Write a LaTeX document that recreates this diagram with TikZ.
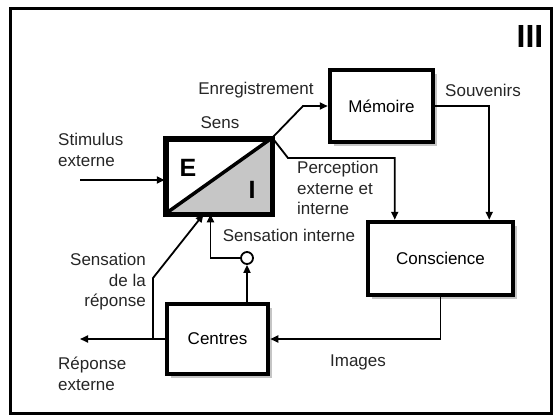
\documentclass[tikz,border=0pt]{standalone}
\usepackage{fontspec}
\setmainfont{Liberation Sans}
\usetikzlibrary{arrows.meta,shadows}
\begin{document}
\begin{tikzpicture}[x=1pt,y=-1pt,
  lbl/.style={font=\fontsize{17}{20.5}\selectfont, inner sep=0pt, text=black!85},
  boxn/.style={draw, line width=4.5pt, fill=white, inner sep=0pt,
     drop shadow={shadow xshift=3.5pt, shadow yshift=-3.5pt, opacity=0.45},
     font=\fontsize{17}{20}\selectfont},
  conn/.style={line width=1.8pt, line join=miter},
  arr/.style={conn, -{Triangle[length=8pt,width=7pt]}}
]
\useasboundingbox (0,0) rectangle (559,416);
\fill[white] (0,0) rectangle (559,416);
\draw[line width=3pt] (10,8) rectangle (551,413);
\node[font=\bfseries\fontsize{32}{32}\selectfont, inner sep=0pt] (roman) at (530,36) {III};

% boxes
\node[boxn, minimum width=103pt, minimum height=72pt] (sens) at (218.5,176) {};
\node[boxn, minimum width=103pt, minimum height=72pt] (mem) at (381.5,106) {Mémoire};
\node[boxn, minimum width=145pt, minimum height=73pt] (cons) at (440.5,258.5) {Conscience};
\node[boxn, minimum width=101pt, minimum height=70pt] (cent) at (217.5,339) {Centres};

% sens box interior
\fill[gray!45] (sens.south west) -- (sens.south east) -- (sens.north east) -- cycle;
\draw[line width=4.5pt] (sens.south west) rectangle (sens.north east);
\draw[line width=3.5pt] (sens.south west) -- (sens.north east);
\node[font=\bfseries\fontsize{25}{25}\selectfont, inner sep=0pt] (E) at (188,168) {E};
\node[font=\bfseries\fontsize{25}{25}\selectfont, inner sep=0pt] (I) at (252,190) {I};

% circle
\node[circle, draw, line width=1.8pt, fill=white, minimum size=12pt, inner sep=0pt] (circ) at (247,258) {};

% coordinates
\coordinate (stim) at (80,180);
\coordinate (rep) at (80,339);
\coordinate (srj) at (153,339);

% connectors
\draw[arr] (stim) -- (stim -| sens.west);
\draw[arr] (sens.north east) -- (303,106) -- (mem.west);
\draw[arr] (sens.north east) -- (288,158) -| ([xshift=29pt]cons.north west);
\draw[arr] (mem.east) -| ([xshift=-26pt]cons.north east);
\draw[arr] (cons.south) |- (cent.east);
\draw[arr] (cent.west) -- (rep);
\draw[arr] (srj) -- (153,278) -- ([xshift=-15pt]sens.south);
\draw[arr] (circ.west) -| ([xshift=-8pt]sens.south);
\draw[arr] (circ.south |- cent.north) -- (circ.south);

% labels
\node[lbl] (lsens) at (220,123) {Sens};
\node[lbl] (lenr) at (256,90) {Enregistrement};
\node[lbl] (lsouv) at (483,90) {Souvenirs};
\node[lbl, align=left, anchor=west] (lperc) at (297,188) {Perception\\externe et\\interne};
\node[lbl] (lsint) at (289,235) {Sensation interne};
\node[lbl] (limg) at (358,362) {Images};
\node[lbl, align=left, anchor=west] (lrep) at (58,374) {Réponse\\externe};
\node[lbl, align=right, anchor=east] (lsrep) at (146,282) {Sensation\\de la\\réponse};
\node[lbl, align=left, anchor=west] (lstim) at (58,150) {Stimulus\\externe};
\end{tikzpicture}
\end{document}
